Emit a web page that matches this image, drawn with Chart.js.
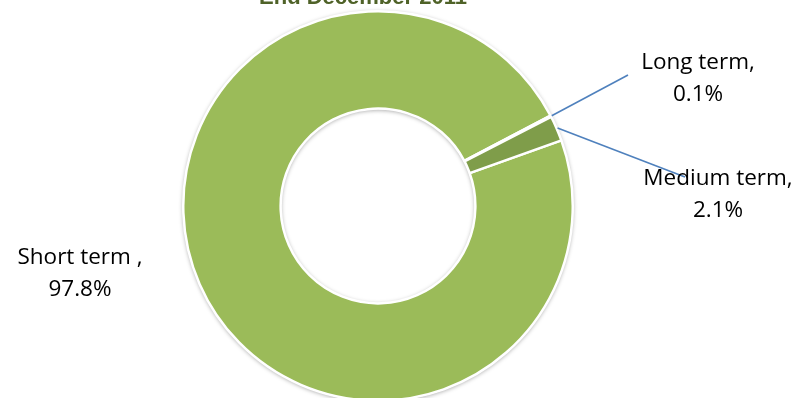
<!DOCTYPE html>
<html>
<head>
<meta charset="utf-8">
<script src="https://cdn.jsdelivr.net/npm/chart.js@4.4.1/dist/chart.umd.min.js"></script>
<style>
html,body{margin:0;padding:0;background:#fff;overflow:hidden;}
#wrap{position:relative;width:799px;height:402px;}
</style>
</head>
<body>
<div id="wrap"><canvas id="c"></canvas></div>
<script>
const titleText = 'End December 2011';
const labels = ['Short term ,', 'Long term,', 'Medium term,'];
const values = [97.8, 0.1, 2.1];
const valueLabels = ['97.8%', '0.1%', '2.1%'];
const colors = ['#9BBB59', '#9BBB59', '#7F9D4A'];

// label placement (layout): text centre and leader-line end point
const labelLayout = [
  {x: 80, y: 258, lead: null},
  {x: 698, y: 63, lead: {x: 628, y: 75}},
  {x: 718, y: 179, lead: {x: 685, y: 177}}
];

const shadowPlugin = {
  id: 'shadowPlugin',
  beforeDatasetsDraw(chart) {
    const meta = chart.getDatasetMeta(0);
    const a = meta.data[0];
    if (!a) return;
    const p = a.getProps(['x','y','outerRadius','innerRadius'], true);
    const ctx = chart.ctx;
    ctx.save();
    ctx.shadowColor = 'rgba(0,0,0,0.35)';
    ctx.shadowBlur = 4;
    ctx.shadowOffsetX = 0;
    ctx.shadowOffsetY = 1;
    ctx.fillStyle = '#ffffff';
    ctx.beginPath();
    ctx.arc(p.x, p.y, p.outerRadius + 0.5, 0, Math.PI * 2);
    ctx.arc(p.x, p.y, p.innerRadius - 0.5, 0, Math.PI * 2, true);
    ctx.fill();
    ctx.restore();
  }
};

const labelPlugin = {
  id: 'labelPlugin',
  afterDraw(chart) {
    const ctx = chart.ctx;
    const meta = chart.getDatasetMeta(0);
    // title (mostly clipped at the top)
    ctx.save();
    ctx.font = 'bold 22px "Liberation Sans", Arial, sans-serif';
    ctx.fillStyle = '#4F6228';
    ctx.textAlign = 'center';
    ctx.textBaseline = 'alphabetic';
    ctx.fillText(titleText, 363, 4);
    ctx.restore();

    meta.data.forEach((arc, i) => {
      const L = labelLayout[i];
      const p = arc.getProps(['x','y','startAngle','endAngle','outerRadius'], true);
      const mid = (p.startAngle + p.endAngle) / 2;
      if (L.lead) {
        const sx = p.x + Math.cos(mid) * (p.outerRadius + 1);
        const sy = p.y + Math.sin(mid) * (p.outerRadius + 1);
        ctx.save();
        ctx.strokeStyle = '#4F81BD';
        ctx.lineWidth = 1.6;
        ctx.beginPath();
        ctx.moveTo(sx, sy);
        ctx.lineTo(L.lead.x, L.lead.y);
        ctx.stroke();
        ctx.restore();
      }
      ctx.save();
      ctx.font = '22.5px "Open Sans", sans-serif';
      ctx.fillStyle = '#000';
      ctx.textAlign = 'center';
      ctx.textBaseline = 'middle';
      ctx.fillText(labels[i], L.x, L.y);
      ctx.fillText(valueLabels[i], L.x, L.y + 32);
      ctx.restore();
    });
  }
};

new Chart(document.getElementById('c'), {
  type: 'doughnut',
  data: {
    labels: labels,
    datasets: [{
      data: values,
      backgroundColor: colors,
      borderColor: '#FFFFFF',
      borderWidth: 2.5,
      hoverOffset: 0
    }]
  },
  options: {
    responsive: true,
    maintainAspectRatio: false,
    animation: false,
    cutout: '50%',
    rotation: 70.3,
    layout: {padding: {left: 182, right: 225, top: 10, bottom: 0}},
    plugins: {
      legend: {display: false},
      title: {display: false},
      tooltip: {enabled: false}
    }
  },
  plugins: [shadowPlugin, labelPlugin]
});
</script>
</body>
</html>
